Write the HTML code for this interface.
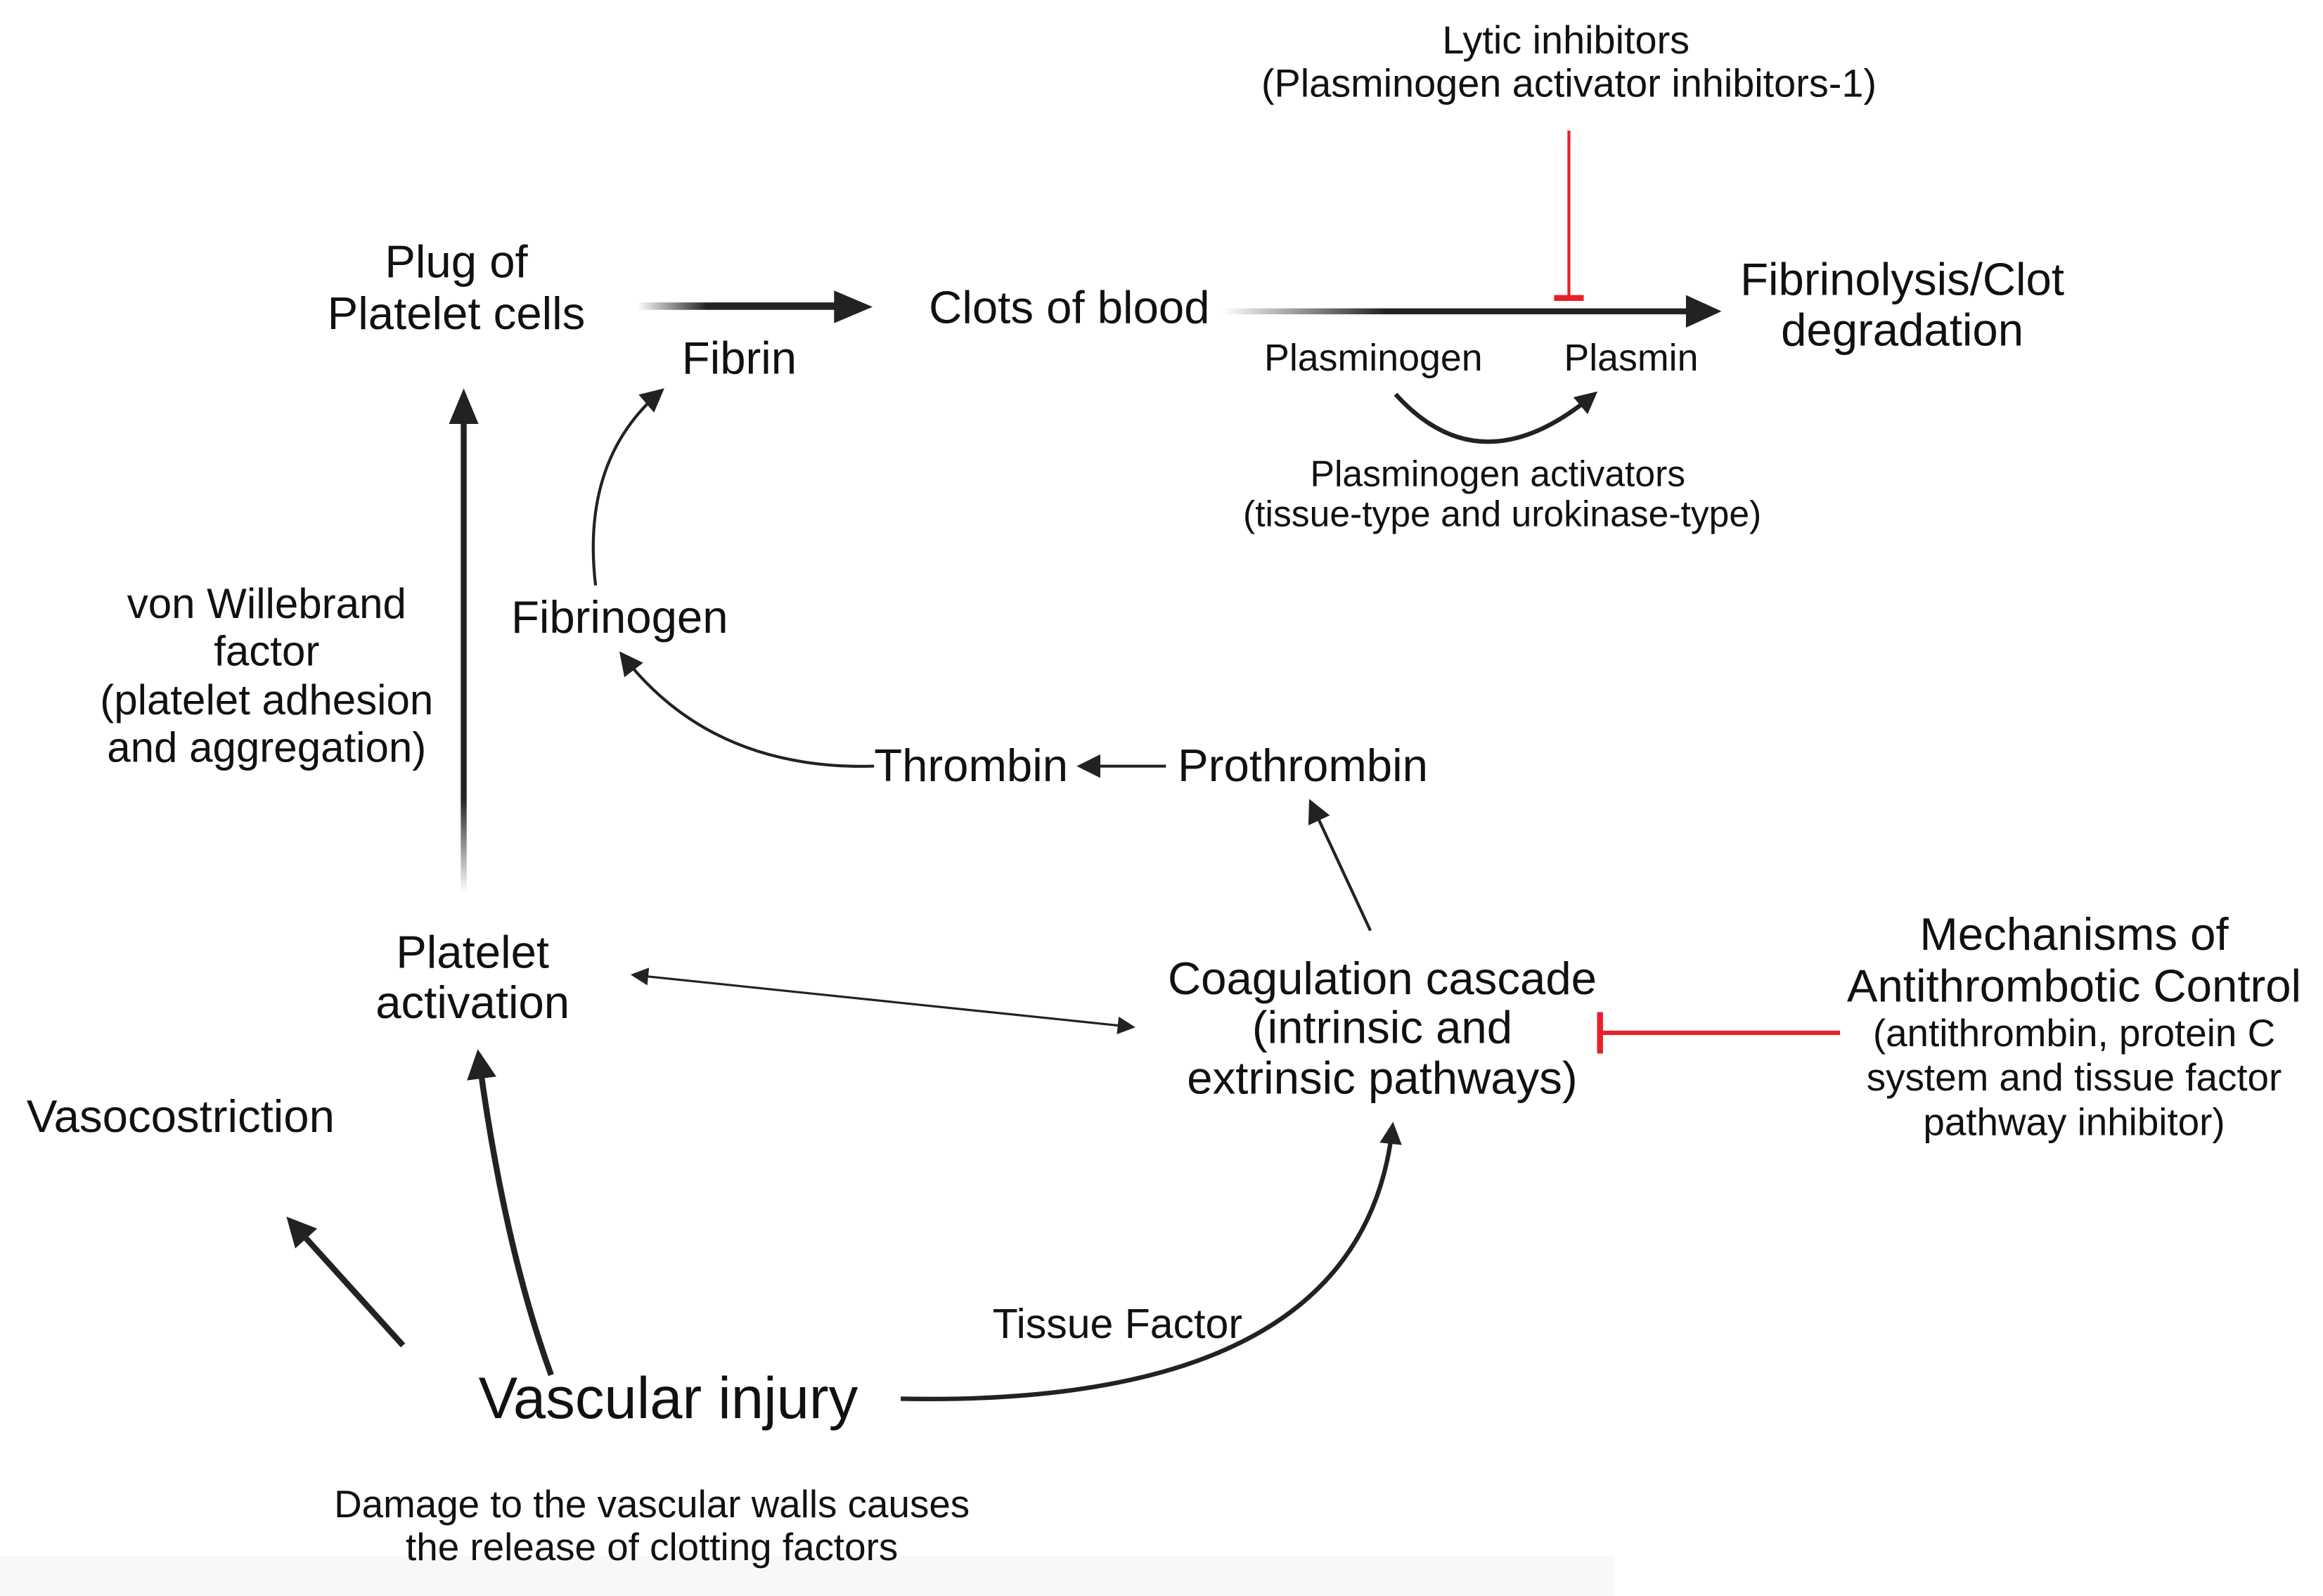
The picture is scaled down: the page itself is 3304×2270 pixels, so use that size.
<!DOCTYPE html>
<html><head><meta charset="utf-8"><style>
html,body{margin:0;padding:0;background:#fff;}
svg{display:block;}
text{font-family:"Liberation Sans",sans-serif;fill:#111;}
</style></head><body>
<svg width="3304" height="2270" viewBox="0 0 1568 1077" xmlns="http://www.w3.org/2000/svg">
<defs>
<linearGradient id="gh" x1="0" x2="1" y1="0" y2="0"><stop offset="0" stop-color="#222" stop-opacity="0"/><stop offset="0.35" stop-color="#222"/><stop offset="1" stop-color="#222"/></linearGradient>
<linearGradient id="gv" x1="0" x2="0" y1="1" y2="0"><stop offset="0" stop-color="#222" stop-opacity="0"/><stop offset="0.2" stop-color="#222"/><stop offset="1" stop-color="#222"/></linearGradient>
<marker id="ah" viewBox="0 0 10 10" refX="8" refY="5" markerWidth="5" markerHeight="5" orient="auto-start-reverse" markerUnits="strokeWidth"><path d="M0,0L10,5L0,10z" fill="#222"/></marker>
<marker id="ahs" viewBox="0 0 10 10" refX="8" refY="5" markerWidth="8" markerHeight="8" orient="auto-start-reverse" markerUnits="strokeWidth"><path d="M0,0L10,5L0,10z" fill="#222"/></marker>
</defs>
<rect x="0" y="1050" width="1090" height="27" fill="#f8f8f8"/>
<g text-anchor="middle" font-size="26.5">
<text x="1057" y="36">Lytic inhibitors</text>
<text x="1059" y="65">(Plasminogen activator inhibitors-1)</text>
</g>
<line x1="1059" y1="88" x2="1059" y2="200" stroke="#e8202a" stroke-width="2"/>
<line x1="1049" y1="201" x2="1069" y2="201" stroke="#e8202a" stroke-width="4"/>
<g text-anchor="middle" font-size="31">
<text x="308" y="187">Plug of</text>
<text x="308" y="222">Platelet cells</text>
<text x="499" y="252">Fibrin</text>
<text x="1284" y="199">Fibrinolysis/Clot</text>
<text x="1284" y="233">degradation</text>
<text x="180" y="417" font-size="28.5">von Willebrand</text>
<text x="180" y="449" font-size="28.5">factor</text>
<text x="180" y="482" font-size="28.5">(platelet adhesion</text>
<text x="180" y="514" font-size="28.5">and aggregation)</text>
<text x="319" y="653">Platelet</text>
<text x="319" y="687">activation</text>
<text x="933" y="671">Coagulation cascade</text>
<text x="933" y="704">(intrinsic and</text>
<text x="933" y="738">extrinsic pathways)</text>
<text x="1400" y="641">Mechanisms of</text>
<text x="1400" y="676">Antithrombotic Control</text>
</g>
<g font-size="31">
<text x="627" y="218">Clots of blood</text>
<text x="345" y="427">Fibrinogen</text>
<text x="590" y="527">Thrombin</text>
<text x="795" y="527">Prothrombin</text>
<text x="18" y="764">Vasocostriction</text>
<text x="323" y="957" font-size="39.5">Vascular injury</text>
<text x="670" y="903" font-size="28">Tissue Factor</text>
</g>
<g text-anchor="middle" font-size="25.5">
<text x="927" y="250">Plasminogen</text>
<text x="1101" y="250">Plasmin</text>
<text x="1011" y="328" font-size="24.5">Plasminogen activators</text>
<text x="1014" y="355" font-size="24.5">(tissue-type and urokinase-type)</text>
<text x="1400" y="706" font-size="26">(antithrombin, protein C</text>
<text x="1400" y="736" font-size="26">system and tissue factor</text>
<text x="1400" y="766" font-size="26">pathway inhibitor)</text>
<text x="440" y="1024" font-size="26">Damage to the vascular walls causes</text>
<text x="440" y="1053" font-size="26">the release of clotting factors</text>
</g>
<rect x="430" y="204" width="135" height="5" fill="url(#gh)"/>
<path d="M563,196 L589,207 L563,218z" fill="#222"/>
<rect x="825" y="208" width="316" height="4" fill="url(#gh)"/>
<path d="M1138,199 L1162,210 L1138,221z" fill="#222"/>
<rect x="311" y="284" width="4" height="318" fill="url(#gv)"/>
<path d="M303,286 L313,262 L323,286z" fill="#222"/>
<g fill="none" stroke="#222">
<path d="M942,266 Q1000,330 1076,266" stroke-width="3" marker-end="url(#ah)"/>
<path d="M402,395 Q392,310 446,264" stroke-width="2" marker-end="url(#ahs)"/>
<path d="M590,517 Q480,520 420,442" stroke-width="2" marker-end="url(#ahs)"/>
<line x1="787" y1="517" x2="730" y2="517" stroke-width="2" marker-end="url(#ahs)"/>
<line x1="925" y1="628" x2="885" y2="542" stroke-width="2" marker-end="url(#ahs)"/>
<line x1="428" y1="658" x2="764" y2="693" stroke-width="1.5" marker-start="url(#ahs)" marker-end="url(#ahs)"/>
<line x1="272" y1="908" x2="196" y2="824" stroke-width="4" marker-end="url(#ah)"/>
<path d="M372,928 Q340,840 323,712" stroke-width="4" marker-end="url(#ah)"/>
<path d="M608,944 Q920,950 940,760" stroke-width="3" marker-end="url(#ah)"/>
</g>
<line x1="1242" y1="697" x2="1080" y2="697" stroke="#e8202a" stroke-width="3"/>
<line x1="1080" y1="683" x2="1080" y2="711" stroke="#e8202a" stroke-width="4"/>
</svg>
</body></html>
